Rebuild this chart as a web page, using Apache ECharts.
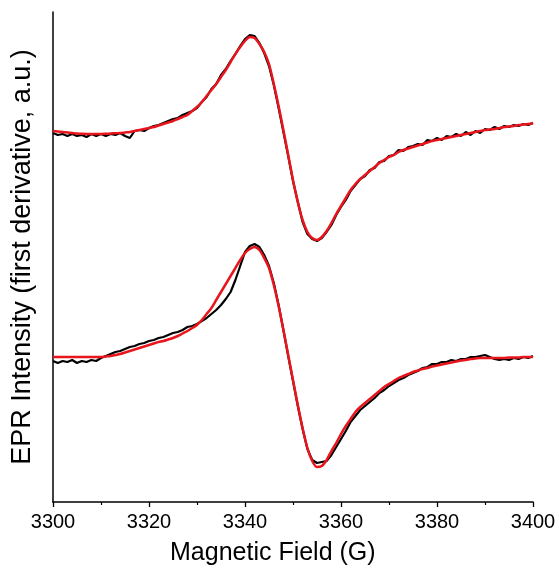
<!DOCTYPE html>
<html>
<head>
<meta charset="utf-8">
<style>
  html, body { margin: 0; padding: 0; background: #fff; }
  #chart { width: 559px; height: 568px; }
</style>
<script src="https://cdn.jsdelivr.net/npm/echarts@6/dist/echarts.min.js"></script>
</head>
<body>
<div id="chart"></div>
<script>
// field axis: 3300..3400 G, one point per gauss
const field = [];
for (let b = 3300; b <= 3400; b++) field.push(b);

// upper sample: measured (black) and simulated (red), a.u. incl. vertical offset
const upperExp = [
  369, 367, 368, 366, 368, 366, 367, 365, 368, 366,
  368, 366, 368, 367, 369, 366, 364, 371, 372, 371,
  374, 376, 377, 379, 381, 383, 384, 387, 389, 391,
  394, 400, 405, 413, 418, 427, 433, 441, 448, 456,
  463, 467, 466, 459, 449, 436, 417, 394, 370, 346,
  321, 300, 280, 268, 263, 261, 264, 270, 277, 287,
  295, 302, 311, 317, 323, 326, 332, 334, 340, 341,
  346, 347, 352, 351, 355, 356, 358, 357, 362, 361,
  364, 362, 366, 365, 368, 366, 370, 367, 371, 369,
  373, 372, 375, 373, 376, 375, 377, 376, 378, 377,
  379
];
const upperFit = [
  371, 370.5, 370, 369.5, 369, 368.5, 368.2, 368, 368, 368,
  368, 368.2, 368.5, 368.8, 369, 369.5, 370, 371, 372, 373,
  374, 375, 376.5, 378, 379.5, 381, 383, 385, 387, 391,
  395, 400, 406, 412, 418, 425, 432, 440, 448, 455,
  461, 465, 464, 458, 450, 438, 418, 396, 372, 347,
  322, 300, 282, 270, 264, 262, 265, 271, 279, 288,
  296, 304, 312, 318, 323, 327, 331, 335, 339, 342,
  345, 347, 350, 352, 353.5, 355, 356.5, 358, 359.5, 361,
  362, 363, 364, 365, 366, 367, 368, 369, 370, 371,
  372, 372.5, 373, 374, 375, 375.5, 376, 377, 377.5, 378,
  379
];

// lower sample
const lowerExp = [
  141, 139, 141, 140, 142, 139, 141, 140, 142, 141,
  144, 146, 148, 150, 151, 153, 155, 156, 158, 159,
  161, 162, 164, 165, 167, 169, 170, 172, 175, 176,
  178, 181, 184, 188, 192, 197, 203, 210, 222, 236,
  250, 256, 258, 255, 247, 236, 219, 197, 172, 146,
  121, 96, 73, 53, 42, 39, 40, 41, 47, 55,
  63, 71, 80, 86, 92, 96, 100, 104, 109, 112,
  116, 119, 122, 124, 127, 129, 131, 134, 135, 138,
  138, 140, 140, 142, 141, 143, 143, 145, 145, 146,
  147, 145, 143, 142, 143, 142, 144, 143, 145, 144,
  146
];
const lowerFit = [
  145, 145, 145, 145, 145, 145, 145, 145, 145, 145,
  145, 145.5, 146, 147, 148, 149.5, 151, 152.5, 154, 155.5,
  157, 158.5, 160, 161, 162.5, 164, 166, 168.5, 171, 174,
  177, 182, 188, 194, 202, 210, 218, 226, 234, 242,
  249, 253, 255, 252, 244, 234, 217, 196, 172, 147,
  122, 97, 74, 54, 41, 35, 36, 42, 51, 59,
  68, 76, 83, 90, 95, 99, 103, 107, 111, 115,
  118, 121, 124, 126, 128, 130, 131.5, 133, 134, 135.5,
  136.5, 137.5, 138.5, 139.5, 140.5, 141.5, 142, 143, 143.5, 144,
  144, 144, 144, 144, 144, 144.5, 144.5, 144.5, 145, 145,
  145
];

const xTicks = [3300, 3320, 3340, 3360, 3380, 3400];

const font = 'Arial, "Liberation Sans", sans-serif';
const pairs = vals => field.map((b, i) => [b, vals[i]]);

let myChart = echarts.init(document.getElementById('chart'));

let option = {
  animation: false,
  backgroundColor: '#fff',
  grid: {
    left: 53,
    right: 26,
    top: 12,
    bottom: 66,
  },
  title: {
    text: 'Magnetic Field (G)',
    left: 170,
    top: 541,
    padding: 0,
    textStyle: {
      fontFamily: font,
      fontSize: 25,
      fontWeight: 'normal',
      color: '#000',
    },
  },
  xAxis: {
    type: 'value',
    min: xTicks[0],
    max: xTicks[xTicks.length - 1],
    interval: 20,
    axisLine: { lineStyle: { color: '#000', width: 1.5 } },
    axisTick: { inside: false, length: 5, lineStyle: { color: '#000', width: 1.3 } },
    minorTick: { show: true, splitNumber: 2, length: 3, lineStyle: { color: '#000', width: 1.2 } },
    splitLine: { show: false },
    axisLabel: {
      margin: 10,
      fontFamily: font,
      fontSize: 20,
      color: '#000',
      formatter: v => String(v),
    },
  },
  yAxis: {
    type: 'value',
    min: 0,
    max: 490,
    name: 'EPR Intensity (first derivative, a.u.)',
    nameLocation: 'middle',
    nameGap: 17,
    nameTextStyle: {
      fontFamily: font,
      fontSize: 27,
      color: '#000',
    },
    axisLine: { show: true, lineStyle: { color: '#000', width: 1.5 } },
    axisTick: { show: false },
    axisLabel: { show: false },
    splitLine: { show: false },
  },
  series: [
    {
      name: 'upper measured',
      type: 'line',
      data: pairs(upperExp),
      showSymbol: false,
      lineStyle: { color: '#000', width: 2.2 },
    },
    {
      name: 'lower measured',
      type: 'line',
      data: pairs(lowerExp),
      showSymbol: false,
      lineStyle: { color: '#000', width: 2.2 },
    },
    {
      name: 'upper fit',
      type: 'line',
      data: pairs(upperFit),
      showSymbol: false,
      smooth: 0.3,
      lineStyle: { color: '#e8161c', width: 2.5 },
    },
    {
      name: 'lower fit',
      type: 'line',
      data: pairs(lowerFit),
      showSymbol: false,
      smooth: 0.3,
      lineStyle: { color: '#e8161c', width: 2.5 },
    },
  ],
};
myChart.setOption(option);
</script>
</body>
</html>
